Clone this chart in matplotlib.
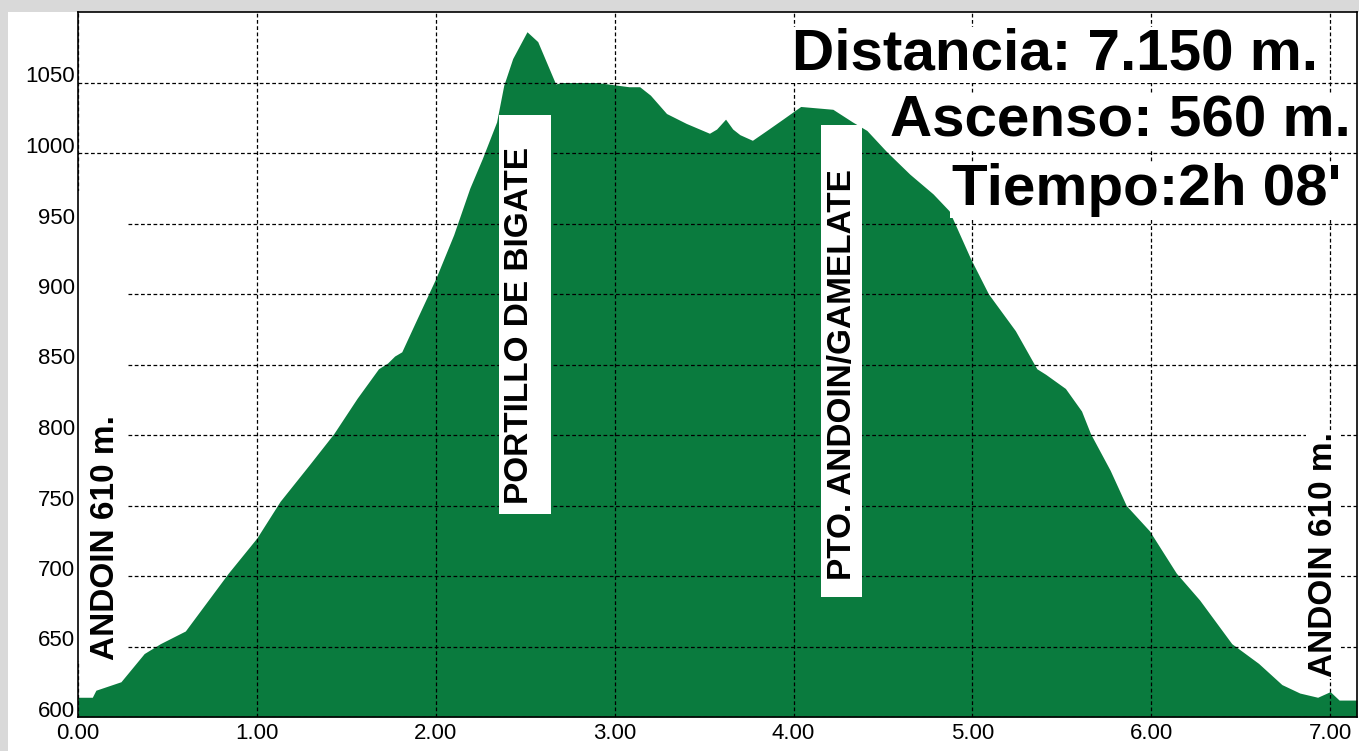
import matplotlib
matplotlib.use("Agg")
import matplotlib.pyplot as plt
from matplotlib.patches import Rectangle

# ── Data ─────────────────────────────────────────────────────────────────────

dist_km = [0.00, 0.08, 0.10, 0.24, 0.37, 0.46, 0.60, 0.84, 1.00, 1.13, 1.30, 1.43,
           1.56, 1.68, 1.73, 1.77, 1.81, 1.89, 2.00, 2.10, 2.19, 2.26, 2.34, 2.38,
           2.43, 2.51, 2.57, 2.64, 2.67, 2.71, 2.90, 3.08, 3.14, 3.20, 3.29, 3.40,
           3.53, 3.57, 3.62, 3.66, 3.70, 3.77, 3.85, 3.94, 4.04, 4.22, 4.33, 4.41,
           4.52, 4.65, 4.78, 4.87, 4.99, 5.09, 5.24, 5.36, 5.41, 5.52, 5.61, 5.66,
           5.77, 5.86, 5.99, 6.14, 6.27, 6.45, 6.60, 6.73, 6.83, 6.93, 7.00, 7.05,
           7.15]
elev_m = [614, 614, 619, 625, 645, 652, 661, 702, 727, 753, 780, 801,
          826, 847, 851, 856, 859, 881, 911, 942, 975, 996, 1022, 1048,
          1067, 1086, 1079, 1058, 1049, 1050, 1050, 1047, 1047, 1041, 1028, 1021,
          1014, 1017, 1024, 1017, 1013, 1009, 1016, 1024, 1033, 1031, 1022, 1016,
          1001, 985, 971, 959, 925, 900, 874, 847, 843, 833, 817, 801,
          775, 750, 732, 702, 683, 652, 638, 623, 617, 614, 618, 612,
          612]

x_ticks = [0, 1, 2, 3, 4, 5, 6, 7]
x_tick_labels = ["0.00", "1.00", "2.00", "3.00", "4.00", "5.00", "6.00", "7.00"]
y_ticks = [600, 650, 700, 750, 800, 850, 900, 950, 1000, 1050]

start_label = "ANDOIN 610 m."
end_label = "ANDOIN 610 m."
pass1_label = "PORTILLO DE BIGATE"
pass2_label = "PTO. ANDOIN/GAMELATE"
stats = ["Distancia: 7.150 m.", "Ascenso: 560 m.", "Tiempo:2h 08'"]

# ── Style ────────────────────────────────────────────────────────────────────

GREEN = "#0a7b3e"
FONT = "Liberation Sans"
plt.rcParams["font.family"] = [FONT, "DejaVu Sans"]

W, H, DPI = 1359, 751, 100
fig = plt.figure(figsize=(W / DPI, H / DPI), dpi=DPI, facecolor="#d9d9d9")
fig.patches.append(Rectangle((8 / W, 0), 1 - 8 / W, 1 - 12 / H, transform=fig.transFigure,
                             facecolor="white", edgecolor="none", zorder=-10))

ax = fig.add_axes([78 / W, 1 - 717 / H, (1357 - 78) / W, (717 - 12) / H])
ax.set_facecolor("white")

ax.fill_between(dist_km, 600, elev_m, color=GREEN, linewidth=0, zorder=1)

ax.set_xlim(0, 7.15)
ax.set_ylim(600, 1100)
ax.set_xticks(x_ticks)
ax.set_xticklabels(x_tick_labels, fontsize=16)
ax.set_yticks(y_ticks)
ax.set_yticklabels([str(v) for v in y_ticks], fontsize=16)
for lbl in ax.get_yticklabels():
    lbl.set_verticalalignment("baseline")
ax.tick_params(axis="both", length=0)
ax.tick_params(axis="y", pad=2)
ax.tick_params(axis="x", pad=4)

ax.set_axisbelow(False)
ax.grid(True, color="black", linewidth=0.9, linestyle=(0, (3, 2)))
for s in ax.spines.values():
    s.set_color("black")
    s.set_linewidth(1.2)
    s.set_zorder(5)

# white patches that hide the grid behind the labels
ax.add_patch(Rectangle((0.0, 640), 0.28, 333, facecolor="white", edgecolor="none", zorder=3))
ax.add_patch(Rectangle((2.352, 744), 0.29, 283, facecolor="white", edgecolor="none", zorder=3))
ax.add_patch(Rectangle((4.156, 685), 0.229, 335, facecolor="white", edgecolor="none", zorder=3))

bold = dict(fontweight="bold", color="black", rotation=90, ha="center", va="center", zorder=4)
ax.text(0.151, 727, start_label, fontsize=24, **bold)
ax.text(6.96, 715, end_label, fontsize=24,
        bbox=dict(facecolor="white", edgecolor="none", pad=1), **bold)
ax.text(2.47, 878, pass1_label, fontsize=24, **bold)
ax.text(4.274, 843, pass2_label, fontsize=24, **bold)

big = dict(fontsize=42, fontweight="bold", color="black", ha="right", va="baseline", zorder=4,
           bbox=dict(facecolor="white", edgecolor="none", pad=1))
ax.text(6.93, 1059, stats[0], **big)
ax.text(7.117, 1012, stats[1], **big)
ax.text(7.06, 963, stats[2], **big)

fig.savefig("out.png", dpi=DPI, facecolor=fig.get_facecolor())
